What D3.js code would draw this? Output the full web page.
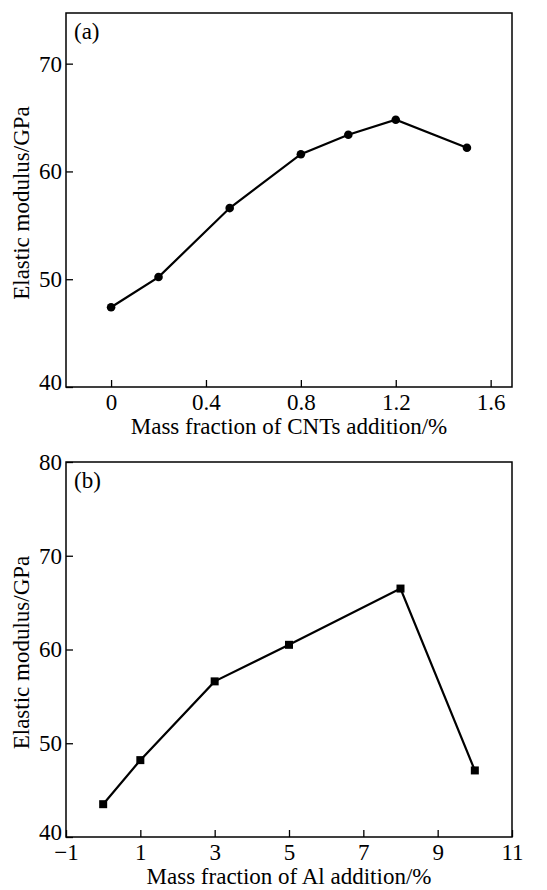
<!DOCTYPE html>
<html>
<head>
<meta charset="utf-8">
<script src="https://cdn.jsdelivr.net/npm/d3@7"></script>
<style>
	body { margin: 0; background: #fff; }
	svg text { font-family: "Liberation Serif", "Times New Roman", serif; fill: #000; }
	.axis path { display: none; }
	.axis line { stroke: #000; stroke-width: 1.3; }
</style>
</head>
<body>
<div id="chart"></div>
<script>
// panel (a): CNTs
var cntX = [0, 0.2, 0.5, 0.8, 1.0, 1.2, 1.5];
var cntY = [47.4, 50.2, 56.6, 61.6, 63.4, 64.8, 62.2];
var cntXTicks = [0, 0.4, 0.8, 1.2, 1.6];
var cntYTicks = [40, 50, 60, 70];

// panel (b): Al
var alX = [0, 1, 3, 5, 8, 10];
var alY = [43.5, 48.2, 56.6, 60.5, 66.5, 47.1];
var alXTicks = [-1, 1, 3, 5, 7, 9, 11];
var alYTicks = [40, 50, 60, 70, 80];

var width = 547, height = 890;
var svg = d3.select("#chart").append("svg")
	.attr("width", width)
	.attr("height", height);

function drawPanel(opt) {
	var x = d3.scaleLinear().domain(opt.xDomain).range([66, 512]);
	var y = d3.scaleLinear().domain(opt.yDomain).range([opt.bottom, opt.top]);
	var g = svg.append("g");

	g.append("g").attr("class", "axis")
		.attr("transform", "translate(0," + opt.bottom + ")")
		.call(d3.axisBottom(x).tickValues(opt.xTicks).tickFormat(opt.xFormat)
			.tickSizeInner(-7).tickSizeOuter(0).tickPadding(7))
		.selectAll("text").attr("font-size", 23).attr("font-family", null);

	var yAx = g.append("g").attr("class", "axis")
		.attr("transform", "translate(66,0)")
		.call(d3.axisLeft(y).tickValues(opt.yTicks).tickFormat(d3.format("d"))
			.tickSizeInner(-7).tickSizeOuter(0).tickPadding(4));
	yAx.selectAll("text").attr("font-size", 23).attr("font-family", null);
	// lowest label sits a little above its tick, as in the figure
	yAx.selectAll("text").filter(function (d) { return d == opt.yDomain[0]; })
		.attr("y", -5);

	g.append("rect")
		.attr("x", 66).attr("y", opt.top)
		.attr("width", 446).attr("height", opt.bottom - opt.top)
		.attr("fill", "none").attr("stroke", "#000").attr("stroke-width", 1.5);

	var line = d3.line().x(function (d) { return x(d[0]); }).y(function (d) { return y(d[1]); });
	var pts = opt.xs.map(function (v, i) { return [v, opt.ys[i]]; });
	g.append("path").datum(pts)
		.attr("d", line).attr("fill", "none").attr("stroke", "#000").attr("stroke-width", 2.2);

	if (opt.marker == "circle") {
		g.selectAll("circle.pt").data(pts).enter().append("circle")
			.attr("cx", function (d) { return x(d[0]); })
			.attr("cy", function (d) { return y(d[1]); })
			.attr("r", 4.3).attr("fill", "#000");
	} else {
		g.selectAll("rect.pt").data(pts).enter().append("rect")
			.attr("x", function (d) { return x(d[0]) - 4; })
			.attr("y", function (d) { return y(d[1]) - 4; })
			.attr("width", 8).attr("height", 8).attr("fill", "#000");
	}

	g.append("text").attr("x", 74).attr("y", opt.top + 26)
		.attr("font-size", 23).text(opt.tag);

	g.append("text").attr("x", 289).attr("y", opt.titleY)
		.attr("text-anchor", "middle").attr("font-size", 23).text(opt.xTitle);

	g.append("text")
		.attr("transform", "translate(29," + ((opt.top + opt.bottom) / 2 + 3) + ") rotate(-90)")
		.attr("text-anchor", "middle").attr("font-size", 23).text("Elastic modulus/GPa");
}

drawPanel({
	xs: cntX, ys: cntY, xTicks: cntXTicks, yTicks: cntYTicks,
	xDomain: [-0.19, 1.69], yDomain: [40, 74.7], top: 13, bottom: 387,
	xFormat: function (d) { return d === 0 ? "0" : d3.format(".1f")(d); },
	marker: "circle", tag: "(a)", titleY: 434,
	xTitle: "Mass fraction of CNTs addition/%"
});

drawPanel({
	xs: alX, ys: alY, xTicks: alXTicks, yTicks: alYTicks,
	xDomain: [-1, 11], yDomain: [40, 80], top: 462, bottom: 837,
	xFormat: d3.format("d"),
	marker: "square", tag: "(b)", titleY: 884,
	xTitle: "Mass fraction of Al addition/%"
});
</script>
</body>
</html>
